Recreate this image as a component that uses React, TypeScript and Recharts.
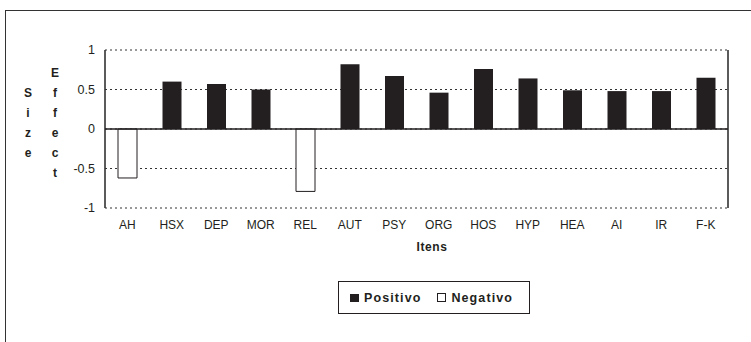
import React from 'react';
import {
  BarChart,
  Bar,
  XAxis,
  YAxis,
  CartesianGrid,
  ReferenceLine,
  ReferenceArea,
} from 'recharts';

const categories = ['AH', 'HSX', 'DEP', 'MOR', 'REL', 'AUT', 'PSY', 'ORG', 'HOS', 'HYP', 'HEA', 'AI', 'IR', 'F-K'];
const positivo = [null, 0.6, 0.57, 0.5, null, 0.82, 0.67, 0.46, 0.76, 0.64, 0.49, 0.48, 0.48, 0.65];
const negativo = [-0.62, null, null, null, -0.79, null, null, null, null, null, null, null, null, null];
const yTicks = [-1, -0.5, 0, 0.5, 1];

const FONT = '"Liberation Sans", Arial, sans-serif';
const INK = '#231f20';

// chart box and plot area
const W = 751;
const H = 342;
const MARGIN = { top: 50, right: 23, left: 0, bottom: 104 };
const Y_AXIS_W = 105;
const X_AXIS_H = 30;
const PLOT_W = W - MARGIN.left - MARGIN.right - Y_AXIS_W;
const PLOT_H = H - MARGIN.top - MARGIN.bottom - X_AXIS_H;

const data = categories.map((item, i) => ({
  item,
  Positivo: positivo[i],
  Negativo: negativo[i],
}));

// letters of the stacked y-axis title, one per line
const effectLetters = ['E', 'f', 'f', 'e', 'c', 't'];
const sizeLetters = ['S', 'i', 'z', 'e'];

const LegendBox = () => (
  <div
    style={{
      position: 'absolute',
      left: 338,
      top: 281,
      width: 192,
      height: 33,
      display: 'flex',
      alignItems: 'center',
      gap: 16,
      padding: '0 10px 0 11px',
      border: `1.5px solid ${INK}`,
      boxSizing: 'border-box',
      fontFamily: FONT,
      fontWeight: 'bold',
      fontSize: 12.5,
      letterSpacing: 1.1,
      color: INK,
      whiteSpace: 'nowrap',
    }}
  >
    <span style={{ display: 'flex', alignItems: 'center', gap: 5 }}>
      <span style={{ width: 9, height: 8, background: INK, display: 'inline-block' }} />
      Positivo
    </span>
    <span style={{ display: 'flex', alignItems: 'center', gap: 5 }}>
      <span
        style={{ width: 7, height: 7, background: '#fff', border: `1px solid ${INK}`, display: 'inline-block' }}
      />
      Negativo
    </span>
  </div>
);

const LetterColumn = ({ letters, left, top }: { letters: string[]; left: number; top: number }) => (
  <div
    style={{
      position: 'absolute',
      left,
      top,
      width: 14,
      textAlign: 'center',
      fontFamily: FONT,
      fontWeight: 'bold',
      fontSize: 12,
      lineHeight: '20px',
      color: INK,
    }}
  >
    {letters.map((l, i) => (
      <div key={i}>{l}</div>
    ))}
  </div>
);

export default function App() {
  return (
    <div style={{ position: 'absolute', left: 0, top: 0, width: W, height: H, overflow: 'hidden', background: '#fff' }}>
      {/* outer frame */}
      <div
        style={{
          position: 'absolute',
          left: 5,
          top: 10,
          width: 800,
          height: 400,
          borderLeft: '1.5px solid #333',
          borderTop: '1.5px solid #333',
        }}
      />
      <LetterColumn letters={effectLetters} left={48} top={63} />
      <LetterColumn letters={sizeLetters} left={21} top={83} />
      <div style={{ position: 'absolute', left: 0, top: 0 }}>
        <BarChart width={W} height={H} data={data} stackOffset="sign" margin={MARGIN}>
          <CartesianGrid vertical={false} stroke="#333" strokeDasharray="2 3" />
          <XAxis
            dataKey="item"
            axisLine={false}
            tickLine={false}
            tickMargin={6}
            height={X_AXIS_H}
            interval={0}
            tick={{ fontFamily: FONT, fontSize: 12, fill: INK }}
          />
          <YAxis
            domain={[-1, 1]}
            ticks={yTicks}
            width={Y_AXIS_W}
            axisLine={false}
            tickLine={false}
            tickMargin={4}
            tick={{ fontFamily: FONT, fontSize: 12.5, fill: INK }}
          />
          {/* plot frame: only the left and right sides are stroked (top/bottom stay dashed grid) */}
          <ReferenceArea
            y1={-1}
            y2={1}
            fill="none"
            fillOpacity={0}
            stroke="#333"
            strokeWidth={1.6}
            strokeDasharray={`0 ${PLOT_W} ${PLOT_H} ${PLOT_W} ${PLOT_H}`}
            ifOverflow="visible"
          />
          <Bar dataKey="Positivo" stackId="s" fill={INK} barSize={19} isAnimationActive={false} />
          <Bar
            dataKey="Negativo"
            stackId="s"
            fill="#fff"
            stroke={INK}
            strokeWidth={1}
            barSize={19}
            isAnimationActive={false}
          />
          <ReferenceLine y={0} stroke={INK} strokeWidth={1.5} />
        </BarChart>
      </div>
      <LegendBox />
      <div
        style={{
          position: 'absolute',
          left: 432,
          top: 247,
          transform: 'translate(-50%, -50%)',
          fontFamily: FONT,
          fontSize: 12,
          fontWeight: 'bold',
          letterSpacing: 0.6,
          color: INK,
        }}
      >
        Itens
      </div>
    </div>
  );
}
